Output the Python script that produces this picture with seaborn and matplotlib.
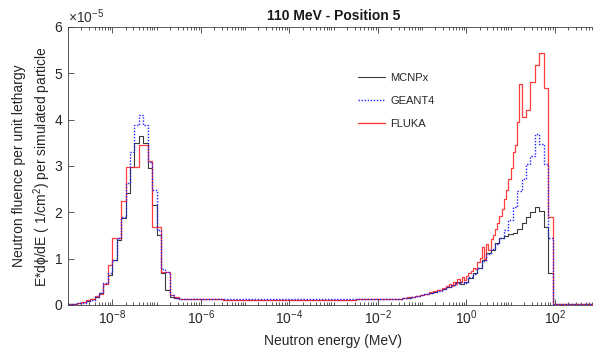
import numpy as np
import pandas as pd
import matplotlib
matplotlib.use("Agg")
import matplotlib.pyplot as plt
import seaborn as sns
from matplotlib.ticker import LogLocator, NullFormatter, ScalarFormatter, FixedLocator
from matplotlib.lines import Line2D

# ---------------- data (values in units of 1e-5) ----------------
codes = ["MCNPx", "GEANT4", "FLUKA"]

# log10(E / MeV) bin edges
thermal_edges = np.round(np.arange(-9.0, -5.95, 0.1), 2)          # -9.0 ... -6.0
flat_edges = [-5.5, -5.0, -4.5, -4.0, -3.5, -3.0, -2.5, -1.95]
fast_edges = np.round(np.arange(-1.85, 1.96, 0.1), 2)             # -1.85 ... 1.95
tail_edge = [3.0]
fluka_fast_edges_a = np.round(np.arange(-1.85, -0.44, 0.1), 2)    # -1.85 ... -0.45
fluka_fast_edges_b = np.round(np.arange(-0.40, 1.26, 0.05), 2)    # -0.40 ... 1.25
fluka_fast_edges_c = np.round(np.arange(1.35, 1.96, 0.1), 2)      # 1.35 ... 1.95

mcnpx_thermal = [0.02, 0.03, 0.04, 0.06, 0.08, 0.12, 0.17, 0.25, 0.45, 0.65,
                 0.97, 1.41, 1.87, 2.42, 2.98, 3.50, 3.65, 3.50, 2.95, 2.16,
                 1.51, 0.68, 0.32, 0.18, 0.15, 0.14, 0.13, 0.13, 0.12, 0.12]
mcnpx_flat = [0.12, 0.11, 0.11, 0.11, 0.11, 0.11, 0.11, 0.12]
mcnpx_fast = [0.12, 0.12, 0.13, 0.13, 0.14, 0.15, 0.16, 0.17, 0.19, 0.21,
              0.24, 0.26, 0.29, 0.32, 0.34, 0.39, 0.43, 0.50, 0.46, 0.50,
              0.58, 0.68, 0.79, 0.97, 1.12, 1.19, 1.33, 1.44, 1.50, 1.53,
              1.55, 1.64, 1.77, 1.90, 2.01, 2.12, 2.03, 1.69, 0.69]
mcnpx_tail = [0.02]

geant4_thermal = [0.02, 0.03, 0.04, 0.05, 0.08, 0.11, 0.18, 0.25, 0.47, 0.68,
                  0.97, 1.44, 1.91, 2.63, 3.31, 3.88, 4.10, 3.88, 3.09, 2.48,
                  1.62, 0.78, 0.72, 0.22, 0.16, 0.14, 0.13, 0.13, 0.13, 0.12]
geant4_flat = [0.12, 0.12, 0.13, 0.12, 0.12, 0.12, 0.12, 0.12]
geant4_fast = [0.12, 0.12, 0.13, 0.13, 0.14, 0.15, 0.16, 0.18, 0.19, 0.21,
               0.23, 0.25, 0.28, 0.31, 0.35, 0.38, 0.44, 0.47, 0.50, 0.48,
               0.60, 0.67, 0.80, 0.95, 1.10, 1.20, 1.32, 1.45, 1.62, 1.83,
               2.12, 2.45, 2.72, 3.05, 3.22, 3.70, 3.47, 3.04, 1.45]
geant4_tail = [0.02]

fluka_thermal = [0.02, 0.03, 0.05, 0.07, 0.10, 0.14, 0.20, 0.24, 0.45, 0.86,
                 1.44, 1.44, 2.24, 2.98, 2.98, 2.98, 3.45, 3.45, 3.10, 1.68,
                 1.68, 0.71, 0.71, 0.22, 0.17, 0.14, 0.13, 0.12, 0.12, 0.12]
fluka_flat = [0.12, 0.11, 0.11, 0.11, 0.11, 0.11, 0.11, 0.12]
fluka_fast_a = [0.12, 0.12, 0.13, 0.14, 0.14, 0.15, 0.17, 0.18, 0.20, 0.22,
                0.24, 0.27, 0.31, 0.33, 0.36]
fluka_fast_b = [0.40, 0.45, 0.42, 0.50, 0.46, 0.56, 0.50, 0.60, 0.55, 0.63,
                0.68, 0.74, 0.80, 0.78, 0.93, 1.02, 1.25, 1.00, 1.32, 1.18,
                1.42, 1.52, 1.64, 1.78, 1.93, 2.08, 2.28, 2.48, 2.72, 2.95,
                3.30, 3.45, 3.95, 4.78]
fluka_fast_c = [4.06, 4.21, 4.82, 5.18, 5.43, 4.68, 1.91]
fluka_tail = [0.02]

# ---------------- assemble ----------------
common_edges = np.concatenate([thermal_edges, flat_edges, fast_edges, tail_edge])
fluka_edges = np.concatenate([thermal_edges, flat_edges, fluka_fast_edges_a,
                              fluka_fast_edges_b, fluka_fast_edges_c, tail_edge])
series = {
    "MCNPx": (common_edges, mcnpx_thermal + mcnpx_flat + mcnpx_fast + mcnpx_tail),
    "GEANT4": (common_edges, geant4_thermal + geant4_flat + geant4_fast + geant4_tail),
    "FLUKA": (fluka_edges, fluka_thermal + fluka_flat + fluka_fast_a + fluka_fast_b
              + fluka_fast_c + fluka_tail),
}
frames = []
for name, (edges, vals) in series.items():
    vals = np.asarray(vals, dtype=float)
    assert len(edges) == len(vals) + 1, (name, len(edges), len(vals))
    y = np.append(vals, vals[-1]) * 1e-5
    frames.append(pd.DataFrame({"E": 10.0 ** edges, "phi": y, "code": name}))
df = pd.concat(frames, ignore_index=True)

# ---------------- style ----------------
sns.set_theme(style="ticks")
plt.rcParams["font.family"] = ["Liberation Sans", "DejaVu Sans"]
plt.rcParams["mathtext.fontset"] = "custom"
plt.rcParams["mathtext.rm"] = "Liberation Sans"
plt.rcParams["mathtext.it"] = "Liberation Sans:italic"
plt.rcParams["mathtext.bf"] = "Liberation Sans:bold"
plt.rcParams["axes.unicode_minus"] = False

colors = {"MCNPx": "#3a3a3a", "GEANT4": "#1f1fff", "FLUKA": "#ff2a2a"}
widths = {"MCNPx": 0.8, "GEANT4": 1.0, "FLUKA": 0.9}
axis_col = "#404040"

fig = plt.figure(figsize=(5.93, 3.51), dpi=100)
ax = fig.add_axes([68 / 593, 1 - 305 / 351, (599 - 68) / 593, (305 - 27) / 351])

for name in ["MCNPx", "FLUKA", "GEANT4"]:
    sub = df[df["code"] == name]
    sns.lineplot(data=sub, x="E", y="phi", ax=ax, color=colors[name],
                 linewidth=widths[name], estimator=None, sort=False,
                 drawstyle="steps-post", legend=False)
    line = ax.lines[-1]
    if name == "GEANT4":
        line.set_dashes((1.0, 1.2))
    if name == "FLUKA":
        line.set_alpha(0.9)

ax.set_xscale("log")
ax.set_xlim(1e-9, 1e3)
ax.set_ylim(0, 6e-5)

ax.xaxis.set_major_locator(FixedLocator([1e-8, 1e-6, 1e-4, 1e-2, 1e0, 1e2]))
ax.xaxis.set_minor_locator(LogLocator(base=10, subs=np.arange(1, 10), numticks=100))
ax.xaxis.set_minor_formatter(NullFormatter())
ax.set_yticks(np.arange(0, 6.01e-5, 1e-5))
fmt = ScalarFormatter(useMathText=True)
fmt.set_powerlimits((-3, 3))
ax.yaxis.set_major_formatter(fmt)

ax.tick_params(which="both", direction="in", top=True, right=True,
               color=axis_col, labelcolor="#262626", width=0.6)
ax.tick_params(which="major", length=4)
ax.tick_params(which="minor", length=2)
ax.tick_params(axis="x", which="major", labelsize=10, pad=2.5)
ax.tick_params(axis="y", which="major", labelsize=10, pad=3.5)
ax.yaxis.get_offset_text().set_fontsize(10)
ax.yaxis.get_offset_text().set_color("#303030")
for sp in ax.spines.values():
    sp.set_color(axis_col)
    sp.set_linewidth(0.6)
ax.set_xlabel("")
ax.set_ylabel("")

ax.set_title("110 MeV - Position 5", fontsize=10, fontweight="bold", pad=5,
             color="#1a1a1a")
cx = (68 + 599) / 2 / 593
fig.text(cx, 1 - 341 / 351, "Neutron energy (MeV)", ha="center", va="center",
         fontsize=10, color="#262626")
ymid = 1 - 166 / 351
fig.text(19 / 593, ymid, "Neutron fluence per unit lethargy", rotation=90,
         ha="center", va="center", fontsize=10, color="#262626")
fig.text(42 / 593, ymid, "E*d\u03d5/dE ( 1/cm$^2$) per simulated particle",
         rotation=90, ha="center", va="center", fontsize=10, color="#262626")

handles = [Line2D([], [], color=colors["MCNPx"], lw=widths["MCNPx"]),
           Line2D([], [], color=colors["GEANT4"], lw=widths["GEANT4"], dashes=(1.0, 1.2)),
           Line2D([], [], color=colors["FLUKA"], lw=widths["FLUKA"])]
fig.legend(handles, codes, loc="upper left", bbox_to_anchor=(358 / 593, 1 - 73 / 351),
           frameon=False, fontsize=8, handlelength=2.4, handletextpad=0.5,
           labelspacing=1.15, borderpad=0, borderaxespad=0)

fig.savefig("out.png", dpi=100)
